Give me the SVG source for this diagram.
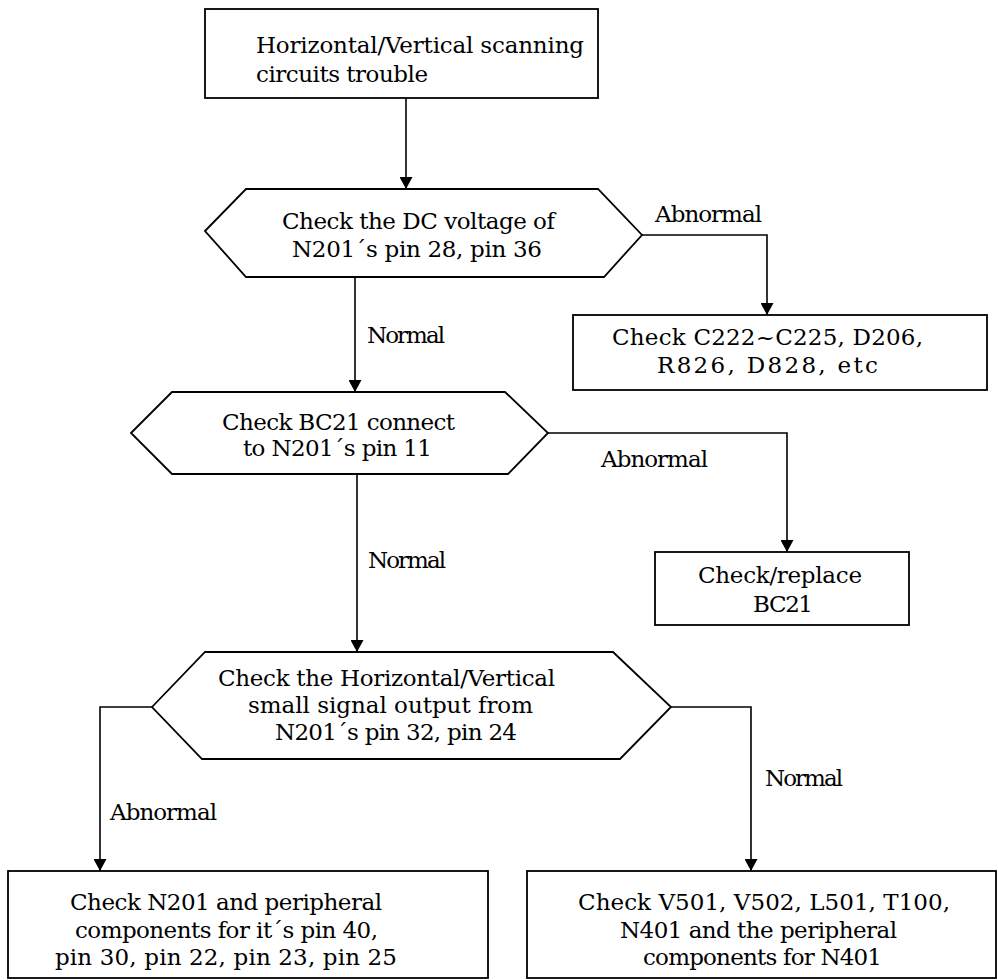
<svg xmlns="http://www.w3.org/2000/svg" width="998" height="980" viewBox="0 0 998 980">
<style>
.shape{fill:#fff;stroke:#000;stroke-width:1.8}
.conn{fill:none;stroke:#000;stroke-width:1.6}
text{font-family:"DejaVu Serif","Liberation Serif",serif;font-size:23px;fill:#000}
</style>
<defs>
<marker id="arr" markerUnits="userSpaceOnUse" markerWidth="12" markerHeight="13" viewBox="0 0 12 13" refX="12" refY="6.5" orient="auto">
<path d="M0,0 L12,6.5 L0,13 z" fill="#000"/>
</marker>
</defs>
<rect width="998" height="980" fill="#fff"/>
<g id="connectors">
<path class="conn" d="M406,98 V189" marker-end="url(#arr)"/>
<path class="conn" d="M642,235 H767 V315" marker-end="url(#arr)"/>
<path class="conn" d="M355,277 V392" marker-end="url(#arr)"/>
<path class="conn" d="M548,433 H787 V552" marker-end="url(#arr)"/>
<path class="conn" d="M357,474 V652" marker-end="url(#arr)"/>
<path class="conn" d="M152,707 H100 V871" marker-end="url(#arr)"/>
<path class="conn" d="M671,707 H751 V871" marker-end="url(#arr)"/>
<text x="655" y="222" textLength="107">Abnormal</text>
<text x="367" y="343" textLength="78">Normal</text>
<text x="601" y="467" textLength="107">Abnormal</text>
<text x="368" y="568" textLength="78">Normal</text>
<text x="110" y="820" textLength="107">Abnormal</text>
<text x="765" y="786" textLength="78">Normal</text>
</g>
<g id="start">
<rect class="shape" x="205" y="9" width="393" height="89"/>
<text x="256" y="53" textLength="328">Horizontal/Vertical scanning</text>
<text x="256" y="82" textLength="172">circuits trouble</text>
</g>
<g id="check-dc">
<polygon class="shape" points="205,231 246,189 598,189 642,235 604,277 246,277"/>
<text x="282" y="229" textLength="273">Check the DC voltage of</text>
<text x="292" y="257" textLength="250">N201´s pin 28, pin 36</text>
</g>
<g id="check-c222">
<rect class="shape" x="573" y="315" width="414" height="75"/>
<text x="612" y="345" textLength="311">Check C222~C225, D206,</text>
<text x="657" y="373" textLength="221">R826, D828, etc</text>
</g>
<g id="check-bc21">
<polygon class="shape" points="131,433 172,392 505,392 548,433 508,474 172,474"/>
<text x="222" y="430" textLength="233">Check BC21 connect</text>
<text x="243" y="456" textLength="189">to N201´s pin 11</text>
</g>
<g id="replace-bc21">
<rect class="shape" x="655" y="552" width="254" height="73"/>
<text x="698" y="583" textLength="164">Check/replace</text>
<text x="753" y="612" textLength="60">BC21</text>
</g>
<g id="check-signal">
<polygon class="shape" points="152,707 205,652 613,652 671,707 620,759 202,759"/>
<text x="218" y="686" textLength="337">Check the Horizontal/Vertical</text>
<text x="248" y="713" textLength="285">small signal output from</text>
<text x="275" y="740" textLength="242">N201´s pin 32, pin 24</text>
</g>
<g id="check-n201">
<rect class="shape" x="8" y="871" width="480" height="107"/>
<text x="70" y="910" textLength="312">Check N201 and peripheral</text>
<text x="75" y="938" textLength="303">components for it´s pin 40,</text>
<text x="55" y="965" textLength="342">pin 30, pin 22, pin 23, pin 25</text>
</g>
<g id="check-v501">
<rect class="shape" x="527" y="871" width="469" height="107"/>
<text x="578" y="910" textLength="372">Check V501, V502, L501, T100,</text>
<text x="620" y="938" textLength="277">N401 and the peripheral</text>
<text x="643" y="965" textLength="239">components for N401</text>
</g>
</svg>
